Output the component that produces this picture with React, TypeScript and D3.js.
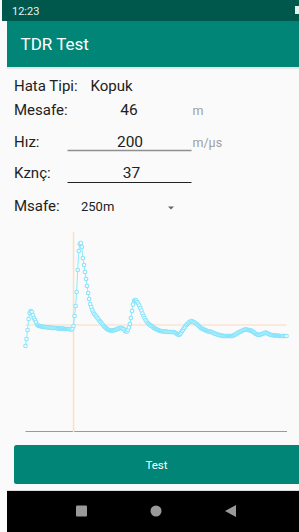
import React from 'react';
import * as d3 from 'd3';

// TDR trace, one reading per metre (0..250 m)
const traceValues: number[] = [
  86, 93, 102, 113, 119, 121, 120, 117, 114, 112, 110, 107.5,
  106.5, 106, 106, 105.5, 105.5, 105, 105, 105, 105, 104.5, 104.5, 104.5, 104.5, 104, 104, 104, 104, 104, 104,
  103.5, 103.5, 103.5, 103.5, 103.5, 103.5, 103, 103, 103, 103, 103, 103, 102.5, 102.5, 103.5,
  106, 116, 126, 140, 162, 181, 188, 189, 185, 174, 167, 160, 153, 146, 139, 133, 128, 125, 122, 119.5,
  118, 116.5, 115.5, 114, 112.5,
  111, 110, 108.5, 107.5, 106, 105, 104, 103, 102.5, 102, 101.5, 101.5, 101.5, 101.5, 102, 102, 102.5,
  103, 103.5, 104, 104, 104, 103.5, 103, 101.5, 100.5, 100.5, 102, 104.5, 108,
  114, 121, 127.5, 131, 132, 131.5, 130, 128.5, 126.5, 124, 121.5, 118.5, 116, 114, 112, 110.5, 109, 108, 107, 106.5,
  106, 105, 104, 103.5, 103, 102.5, 102, 101.5, 101, 101, 100.5, 100.5, 100.5, 100.5, 100.5, 100, 100, 100,
  100, 100, 100, 100, 99.5, 99, 98, 97.5, 97, 98, 99.5, 101,
  102.5, 104, 105.5, 107, 108, 109, 110, 110.5, 111, 110.5, 110, 109.5, 108.5, 108, 107, 106, 105, 104, 103.5, 103,
  102.5, 102, 101.5, 101, 100.5, 100.5, 100.5, 100, 99.5, 99, 98.5, 98, 98, 97.5, 97, 97, 96.5, 96.5, 96, 96,
  96, 96, 96, 96, 96, 96, 96, 96, 96.5, 97,
  97.5, 98, 99, 99.5, 100, 100.5, 101, 101.5, 102, 102.5, 102.5, 102.5, 102, 102, 101.5, 101.5, 101, 100, 99.5, 98.5,
  98, 97.5, 97, 97, 97.5, 98, 98, 98.5, 99, 99.5,
  99, 98.5, 98, 97.5, 97, 97, 97, 96.5, 96.5, 96.5, 96.5, 96.5, 96, 96, 96, 96, 96, 96, 96, 96,
];
const rangeMeters = 250;
const faultMeters = 46;
const thresholdValue = 107;

const formLabels = ['Hata Tipi:', 'Mesafe:', 'Hız:', 'Kznç:', 'Msafe:'];
const faultType = 'Kopuk';
const distanceValue = '46';
const speedValue = '200';
const gainValue = '37';
const rangeOption = '250m';

const W = 299;
const H = 532;
const font = 'Roboto, "Noto Sans", sans-serif';

const App = () => {
  const x = d3.scaleLinear().domain([0, rangeMeters]).range([25.5, 286.5]);
  const y = d3.scaleLinear().domain([0, 200]).range([432, 232]);
  const line = d3.line<number>()
    .x((_, i) => x(i))
    .y(d => y(d));

  return (
    <svg width={W} height={H} style={{ position: 'fixed', left: 0, top: 0 }} fontFamily={font}>
      <rect width={W} height={H} fill="#fafafa" />
      {/* status bar + app bar */}
      <rect x={2} y={0} width={W} height={21} fill="#00574b" />
      <text x={12} y={15} fontSize={11} fill="#e6f2f0">12:23</text>
      <rect x={295} y={6} width={4} height={8} fill="#e6f2f0" />
      <rect x={7} y={21} width={W} height={46} fill="#008577" />
      <rect x={7} y={67} width={W} height={2} fill="#e6e6e6" />
      <text x={20.5} y={50} fontSize={17} fill="#ffffff">TDR Test</text>

      {/* form */}
      <g fontSize={15} fill="#212121">
        <text x={14} y={91}>{formLabels[0]}</text>
        <text x={90.5} y={91}>{faultType}</text>
        <text x={14} y={115}>{formLabels[1]}</text>
        <text x={129} y={115} textAnchor="middle" fontSize={15.5}>{distanceValue}</text>
        <text x={14} y={147}>{formLabels[2]}</text>
        <text x={130} y={147} textAnchor="middle" fontSize={15.5}>{speedValue}</text>
        <text x={14} y={178}>{formLabels[3]}</text>
        <text x={131.5} y={178} textAnchor="middle" fontSize={15.5}>{gainValue}</text>
        <text x={14} y={211}>{formLabels[4]}</text>
        <text x={81} y={211} fontSize={13}>{rangeOption}</text>
      </g>
      <text x={192.5} y={115} fontSize={12.5} fill="#9e9e9e">m</text>
      <text x={192.5} y={147} fontSize={12.5} fill="#9e9e9e">m/µs</text>
      <line x1={67.5} x2={191.5} y1={150.5} y2={150.5} stroke="#8f8f8f" strokeWidth={1.3} />
      <line x1={67.5} x2={191.5} y1={182.5} y2={182.5} stroke="#222" strokeWidth={1.2} />
      <path d="M168,206.5 L174,206.5 L171,209.5 Z" fill="#666" />

      {/* chart */}
      <line x1={x(0)} x2={x(rangeMeters) + 0.5} y1={431.5} y2={431.5} stroke="#9a9a9a" strokeWidth={1} />
      <line x1={x(faultMeters)} x2={x(faultMeters)} y1={y(200)} y2={y(0)} stroke="#fbdfc2" strokeWidth={1.5} />
      <line x1={x(0)} x2={x(rangeMeters)} y1={y(thresholdValue)} y2={y(thresholdValue)} stroke="#fbe5d0" strokeWidth={1.5} />
      <path d={line(traceValues) ?? ''} fill="none" stroke="#8ceaff" strokeWidth={1} />
      {traceValues.map((v, i) => (
        <circle key={i} cx={x(i)} cy={y(v)} r={1.8} fill="#ffffff" stroke="#86e4fb" strokeWidth={1.1} />
      ))}

      {/* button */}
      <rect x={14} y={445} width={290} height={39} rx={2.5} fill="#008577" />
      <text x={156.5} y={468.5} textAnchor="middle" fontSize={11.5} fill="#ffffff">Test</text>

      {/* nav bar */}
      <rect x={7} y={490.5} width={W} height={0.8} fill="#bdbdbd" />
      <rect x={7} y={491} width={W} height={41} fill="#000000" />
      <rect x={76} y={505.5} width={11} height={11} rx={1} fill="#9a9a9a" />
      <circle cx={156} cy={511} r={5.5} fill="#9a9a9a" />
      <path d="M225,511 L236,505 L236,517 Z" fill="#9a9a9a" />
    </svg>
  );
};

export default App;
